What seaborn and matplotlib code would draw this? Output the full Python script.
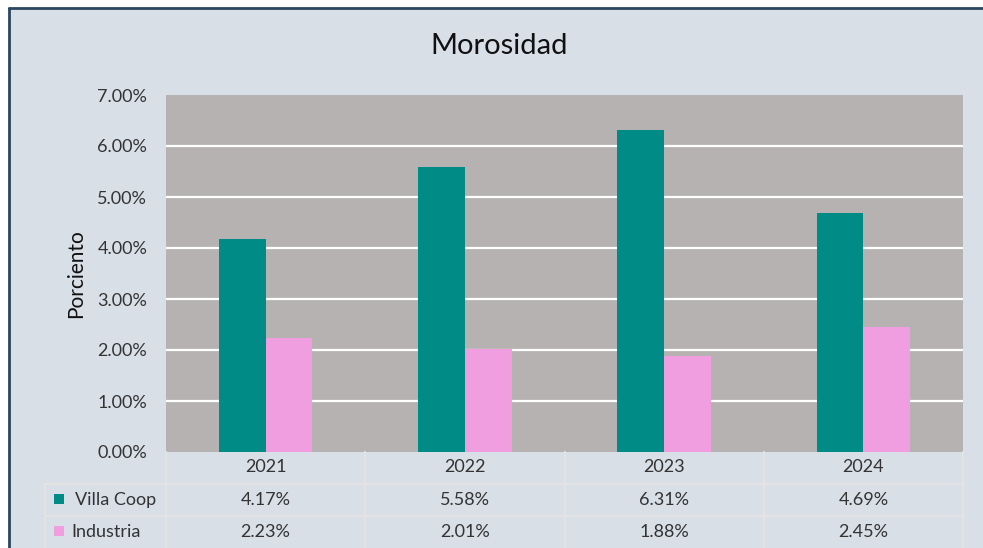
import seaborn as sns
import matplotlib.pyplot as plt
import matplotlib.transforms as mtransforms
from matplotlib.patches import Rectangle
from matplotlib.lines import Line2D
import pandas as pd

# datos
anios = ["2021", "2022", "2023", "2024"]
series = ["Villa Coop", "Industria"]
villa_coop = [4.17, 5.58, 6.31, 4.69]
industria = [2.23, 2.01, 1.88, 2.45]
colores = ["#008B86", "#F09EDF"]

df = pd.DataFrame({
    "anio": anios * 2,
    "serie": [series[0]] * len(anios) + [series[1]] * len(anios),
    "valor": villa_coop + industria,
})

sns.set_theme(style="white")
plt.rcParams["font.family"] = ["Lato", "DejaVu Sans"]

W, H = 983, 548
fig = plt.figure(figsize=(W / 100, H / 100), dpi=100, facecolor="white")


def fx(px):
    return px / W


def fy(py):
    return 1 - py / H


# fondo del gráfico, borde solo arriba e izquierda
fig.add_artist(Rectangle((fx(9), 0), 1, fy(8), transform=fig.transFigure,
                         facecolor="#D8DFE7", edgecolor="none", zorder=0))
fig.add_artist(Line2D([fx(9), 1], [fy(8), fy(8)], transform=fig.transFigure, color="#2B4660", lw=2))
fig.add_artist(Line2D([fx(9), fx(9)], [0, fy(8)], transform=fig.transFigure, color="#2B4660", lw=2))

ax = fig.add_axes([fx(166), fy(452), fx(963) - fx(166), fy(95) - fy(452)])
ax.set_facecolor("#B6B2B2")

# líneas de cuadrícula (sin la de 0 ni la de 7)
for v in range(1, 7):
    ax.axhline(v, color="white", lw=1.6, zorder=0)

sns.barplot(data=df, x="anio", y="valor", hue="serie", palette=colores,
            width=0.47, gap=0, saturation=1, legend=False, linewidth=0, ax=ax)

ax.set_xlim(-0.5, len(anios) - 0.5)
ax.set_ylim(0, 7)
ax.set_yticks(range(0, 8))
ax.set_yticklabels([f"{v:.2f}%" for v in range(0, 8)], fontsize=13, color="#333333")
ax.set_xticks([])
ax.set_xlabel("")
ax.set_ylabel("Porciento", fontsize=15, color="#111111")
ax.yaxis.set_label_coords((86 - 166) / 797, 0.5)
ax.tick_params(axis="y", length=0, pad=13.5)
ax.grid(False)
for s in ax.spines.values():
    s.set_visible(False)

fig.text(fx(499), fy(46), "Morosidad", ha="center", va="center", fontsize=21, color="#111111")

# tabla de datos
trans = mtransforms.blended_transform_factory(ax.transData, fig.transFigure)
linea = dict(color="#E3E3E3", lw=1.6, zorder=1)
for i in range(len(anios) + 1):
    fig.add_artist(Line2D([i - 0.5, i - 0.5], [fy(452), fy(548)], transform=trans, **linea))
fig.add_artist(Line2D([fx(45), fx(45)], [fy(484), fy(548)], transform=fig.transFigure, **linea))
for yy in [484, 516]:
    fig.add_artist(Line2D([fx(45), fx(963)], [fy(yy), fy(yy)], transform=fig.transFigure, **linea))

for i, a in enumerate(anios):
    ax.text(i, fy(467), a, transform=trans, ha="center", va="center", fontsize=13, color="#333333")
    ax.text(i, fy(500), f"{villa_coop[i]:.2f}%", transform=trans, ha="center", va="center",
            fontsize=13, color="#333333")
    ax.text(i, fy(532), f"{industria[i]:.2f}%", transform=trans, ha="center", va="center",
            fontsize=13, color="#333333")

# leyenda en la tabla
for nombre, col, yc, xt in [(series[0], colores[0], 499, 75), (series[1], colores[1], 531, 71)]:
    fig.add_artist(Rectangle((fx(54), fy(yc + 5)), 10 / W, 10 / H, transform=fig.transFigure,
                             facecolor=col, edgecolor="none"))
    fig.text(fx(xt), fy(yc + 1), nombre, ha="left", va="center", fontsize=13, color="#333333")

fig.savefig("out.png", dpi=100, facecolor=fig.get_facecolor())
